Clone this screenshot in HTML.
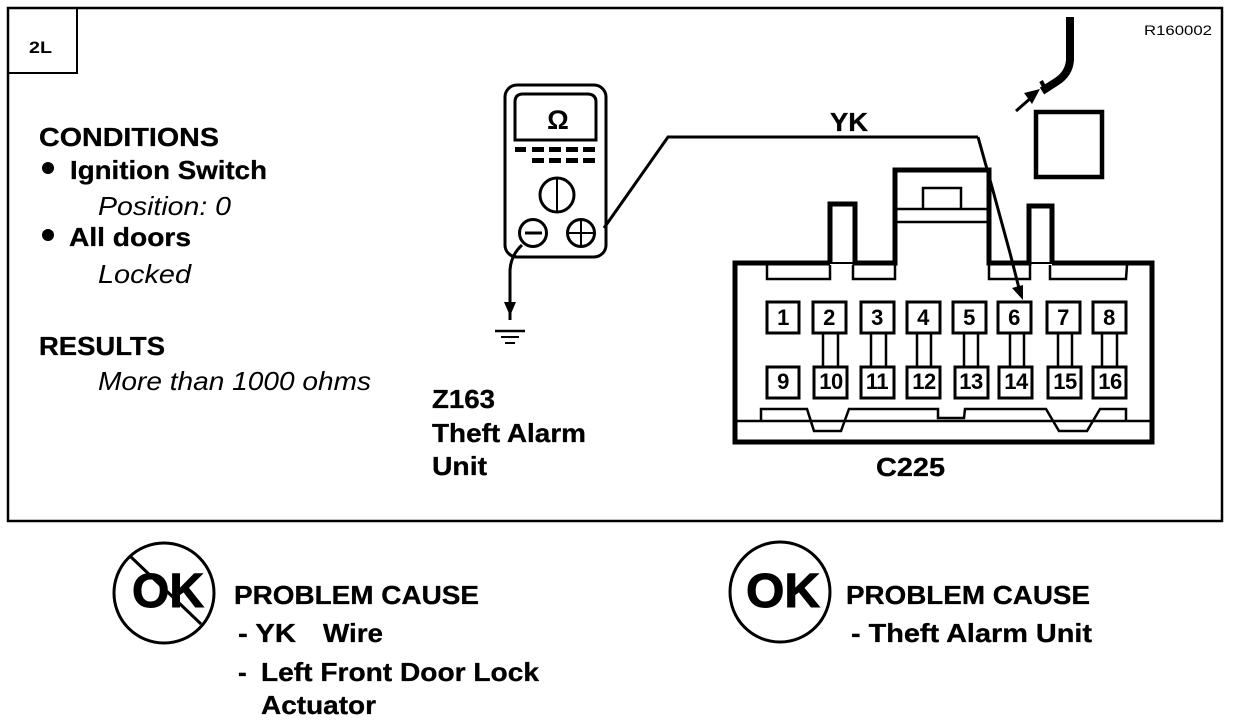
<!DOCTYPE html>
<html><head><meta charset="utf-8">
<style>
html,body{margin:0;padding:0;background:#fff;width:1248px;height:722px;overflow:hidden}
svg{display:block}
text{font-family:"Liberation Sans",sans-serif;fill:#000}
.b{font-weight:bold;font-size:26px;stroke:#000;stroke-width:.3px}
.i{font-style:italic;font-size:26px}
.p{font-weight:bold;font-size:22px;text-anchor:middle;letter-spacing:-.5px}
.l{fill:none;stroke:#000}
.pin{fill:#fff;stroke:#000;stroke-width:3}
</style></head><body>
<svg width="1248" height="722" viewBox="0 0 1248 722" xmlns="http://www.w3.org/2000/svg">
<rect x="8" y="8" width="1214" height="513" class="l" stroke-width="2.5"/>
<path d="M9 73H77V9" class="l" stroke-width="2"/>
<text x="29" y="53" font-size="17" font-weight="bold" textLength="23" lengthAdjust="spacingAndGlyphs">2L</text>
<text x="1144" y="35" font-size="14" textLength="68" lengthAdjust="spacingAndGlyphs">R160002</text>

<text x="39" y="146" class="b" textLength="180" lengthAdjust="spacingAndGlyphs">CONDITIONS</text>
<circle cx="48" cy="168" r="6"/>
<text x="70" y="179" class="b" textLength="197" lengthAdjust="spacingAndGlyphs">Ignition Switch</text>
<text x="98" y="215" class="i" textLength="133" lengthAdjust="spacingAndGlyphs">Position: 0</text>
<circle cx="48" cy="235" r="6"/>
<text x="69" y="246" class="b" textLength="122" lengthAdjust="spacingAndGlyphs">All doors</text>
<text x="98" y="283" class="i" textLength="93" lengthAdjust="spacingAndGlyphs">Locked</text>
<text x="39" y="355" class="b" textLength="126" lengthAdjust="spacingAndGlyphs">RESULTS</text>
<text x="98" y="390" class="i" textLength="273" lengthAdjust="spacingAndGlyphs">More than 1000 ohms</text>

<text x="432" y="408" class="b" textLength="63" lengthAdjust="spacingAndGlyphs">Z163</text>
<text x="432" y="442" class="b" textLength="154" lengthAdjust="spacingAndGlyphs">Theft Alarm</text>
<text x="432" y="475" class="b" textLength="55" lengthAdjust="spacingAndGlyphs">Unit</text>

<!-- meter -->
<rect x="505" y="85" width="101" height="172" rx="12" class="l" stroke-width="3"/>
<path d="M515 140V102Q515 94 523 94H587Q596 94 596 102V140Z" class="l" stroke-width="3"/>
<text x="558" y="129" font-size="27" font-weight="bold" text-anchor="middle">Ω</text>
<g>
<rect x="515" y="147" width="11" height="5"/><rect x="532" y="147" width="12" height="5"/><rect x="549" y="147" width="12" height="5"/><rect x="566" y="147" width="12" height="5"/><rect x="583" y="147" width="12" height="5"/>
<rect x="532" y="158" width="12" height="5"/><rect x="549" y="158" width="12" height="5"/><rect x="566" y="158" width="12" height="5"/><rect x="583" y="158" width="12" height="5"/>
</g>
<circle cx="557" cy="195" r="17" class="l" stroke-width="3"/>
<path d="M557 179V211" class="l" stroke-width="2"/>
<circle cx="533" cy="233" r="13.500" class="l" stroke-width="3"/>
<path d="M525 233H542" class="l" stroke-width="3"/>
<circle cx="581" cy="233" r="13.500" class="l" stroke-width="3"/>
<path d="M569 233H594M581 220V246" class="l" stroke-width="2"/>
<path d="M522 245Q511 255 510 270V320" class="l" stroke-width="3"/>
<path d="M504 302H516L510 316Z"/>
<path d="M495 331H525" class="l" stroke-width="2.500"/>
<path d="M501 337H519" class="l" stroke-width="2"/>
<path d="M505 343H515" class="l" stroke-width="2"/>

<!-- wire -->
<path d="M604 228L668 137H978" class="l" stroke-width="3"/>
<path d="M978 137L992 187L1010 253L1021 296" class="l" stroke-width="3"/>
<path d="M1012 288L1023 285L1023 300Z"/>
<text x="830" y="131" class="b" textLength="38" lengthAdjust="spacingAndGlyphs">YK</text>

<!-- top right -->
<rect x="1036" y="112" width="66" height="65" class="l" stroke-width="4.500"/>
<path d="M1070 17V60Q1069 74 1056 82L1042 91" class="l" stroke-width="8"/>
<path d="M1041 81L1046 90" class="l" stroke-width="4"/>
<path d="M1016 111L1032 97" class="l" stroke-width="3"/>
<path d="M1024 93L1040 89L1032 104Z"/>

<!-- connector -->
<g class="l">
<path d="M830 263H735V442H1152V263H1052" class="l" stroke-width="5"/>
<path d="M830 263V204H855V263H895V170H989V263H1029V206H1052V263" class="l" stroke-width="5"/>
<path d="M830 263H855M1029 263H1052" class="l" stroke-width="2"/>
<path d="M895 209H989M895 222H989" class="l" stroke-width="2.500"/>
<path d="M923 208V188H961V208" class="l" stroke-width="2.500"/>
<path d="M767 265V279H830V265M853 265V279H895V265M989 265V279H1030V265M1050 265V279H1126L1127 265" class="l" stroke-width="2.500"/>
<path d="M736 421H1152" class="l" stroke-width="2.500"/>
<path d="M761 420V409H807L814 431H841L849 409H938V418H964L965 409H1046L1059 431H1087L1100 409H1126V420" class="l" stroke-width="2.500"/>
</g>
<g class="l" stroke-width="2.500">
<path d="M823 333V366M838 333V366M871 333V366M886 333V366M917 333V366M931 333V366M964 333V366M978 333V366M1010 333V366M1024 333V366M1058 333V366M1072 333V366M1102 333V366M1117 333V366" class="l" stroke-width="2.500"/>
</g>
<g>
<rect class="pin" x="767" y="302" width="32" height="31"/>
<rect class="pin" x="813" y="302" width="33" height="31"/>
<rect class="pin" x="861" y="302" width="33" height="31"/>
<rect class="pin" x="907" y="302" width="33" height="31"/>
<rect class="pin" x="953" y="302" width="33" height="31"/>
<rect class="pin" x="998" y="302" width="33" height="31"/>
<rect class="pin" x="1047" y="302" width="33" height="31"/>
<rect class="pin" x="1093" y="302" width="33" height="31"/>
<rect class="pin" x="767" y="367" width="32" height="31"/>
<rect class="pin" x="814" y="367" width="33" height="31"/>
<rect class="pin" x="861" y="367" width="33" height="31"/>
<rect class="pin" x="907" y="367" width="33" height="31"/>
<rect class="pin" x="955" y="367" width="33" height="31"/>
<rect class="pin" x="999" y="367" width="33" height="31"/>
<rect class="pin" x="1048" y="367" width="33" height="31"/>
<rect class="pin" x="1093" y="367" width="33" height="31"/>
</g>
<g>
<text class="p" x="783" y="325">1</text>
<text class="p" x="829" y="325">2</text>
<text class="p" x="877" y="325">3</text>
<text class="p" x="923" y="325">4</text>
<text class="p" x="969" y="325">5</text>
<text class="p" x="1014" y="325">6</text>
<text class="p" x="1063" y="325">7</text>
<text class="p" x="1109" y="325">8</text>
<text class="p" x="783" y="389">9</text>
<text class="p" x="831" y="389">10</text>
<text class="p" x="877" y="389">11</text>
<text class="p" x="924" y="389">12</text>
<text class="p" x="971" y="389">13</text>
<text class="p" x="1016" y="389">14</text>
<text class="p" x="1065" y="389">15</text>
<text class="p" x="1110" y="389">16</text>
</g>
<text x="876" y="476" class="b" textLength="69" lengthAdjust="spacingAndGlyphs">C225</text>

<!-- bottom -->
<circle cx="164" cy="593" r="50" class="l" stroke-width="3"/>
<path d="M131 557L201 624" class="l" stroke-width="3"/>
<text x="132" y="607" font-size="48" font-weight="bold" textLength="72" lengthAdjust="spacingAndGlyphs" style="stroke:#000;stroke-width:1">OK</text>
<text x="234" y="604" class="b" textLength="245" lengthAdjust="spacingAndGlyphs">PROBLEM CAUSE</text>
<text x="238" y="642" class="b" textLength="58" lengthAdjust="spacingAndGlyphs">- YK</text>
<text x="323" y="642" class="b" textLength="60" lengthAdjust="spacingAndGlyphs">Wire</text>
<text x="238" y="681" class="b">-</text>
<text x="261" y="681" class="b" textLength="278" lengthAdjust="spacingAndGlyphs">Left Front Door Lock</text>
<text x="261" y="714" class="b" textLength="115" lengthAdjust="spacingAndGlyphs">Actuator</text>

<circle cx="780" cy="592" r="50" class="l" stroke-width="3"/>
<text x="746" y="607" font-size="48" font-weight="bold" textLength="74" lengthAdjust="spacingAndGlyphs" style="stroke:#000;stroke-width:1">OK</text>
<text x="846" y="604" class="b" textLength="244" lengthAdjust="spacingAndGlyphs">PROBLEM CAUSE</text>
<text x="851" y="642" class="b" textLength="241" lengthAdjust="spacingAndGlyphs">- Theft Alarm Unit</text>
</svg>
</body></html>
